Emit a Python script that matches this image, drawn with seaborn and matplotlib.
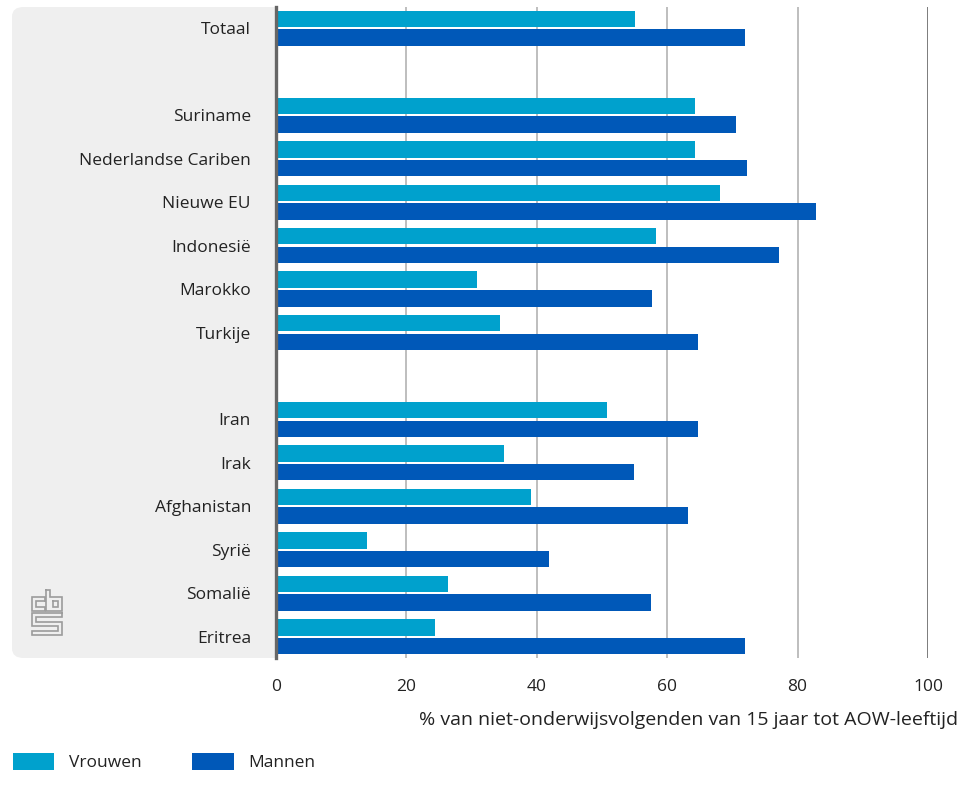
import matplotlib
matplotlib.use("Agg")
import matplotlib.pyplot as plt
from matplotlib.patches import FancyBboxPatch, Patch
import seaborn as sns
import pandas as pd

categories = ["Totaal", "", "Suriname", "Nederlandse Cariben", "Nieuwe EU", "Indonesië",
              "Marokko", "Turkije", " ", "Iran", "Irak", "Afghanistan", "Syrië", "Somalië", "Eritrea"]
vrouwen = [55, None, 64.3, 64.3, 68.1, 58.3, 30.8, 34.4, None, 50.8, 35.0, 39.1, 14.0, 26.4, 24.4]
mannen = [72, None, 70.6, 72.2, 82.8, 77.1, 57.7, 64.7, None, 64.7, 54.9, 63.2, 41.9, 57.5, 71.9]
series = ["Vrouwen", "Mannen"]
colors = ["#00A1CD", "#0058B8"]
xticks = [0, 20, 40, 60, 80, 100]
xlabel = "% van niet-onderwijsvolgenden van 15 jaar tot AOW-leeftijd"

rows = []
for c, v, m in zip(categories, vrouwen, mannen):
    if v is not None:
        rows.append({"cat": c, "val": v, "sex": "Vrouwen"})
        rows.append({"cat": c, "val": m, "sex": "Mannen"})
df = pd.DataFrame(rows)

sns.set_theme(style="white")
plt.rcParams["font.family"] = ["Open Sans", "DejaVu Sans"]
FS = 12.5
TXT = "#222222"

W, H = 966, 798
fig = plt.figure(figsize=(W / 100, H / 100), dpi=100)
ax_left, ax_right, ax_top, ax_bot = 276, 928, 7, 658
ax = fig.add_axes([ax_left / W, 1 - ax_bot / H, (ax_right - ax_left) / W, (ax_bot - ax_top) / H])
ax.set_zorder(2)

# gray panel behind labels
panel = FancyBboxPatch((12 / W, 1 - ax_bot / H), (300 - 12) / W, (ax_bot - ax_top) / H,
                       boxstyle="round,pad=0,rounding_size=0.012", transform=fig.transFigure,
                       facecolor="#efefef", edgecolor="none", zorder=-5)
fig.patches.append(panel)

sns.barplot(data=df, y="cat", x="val", hue="sex", order=categories, hue_order=series,
            palette=colors, saturation=1, orient="h", width=0.86, gap=0.12, linewidth=0, ax=ax,
            legend=False, errorbar=None)

ax.set_facecolor("white")
ax.set_xlim(0, 100)
ax.set_ylim(14.49, -0.49)
ax.set_xticks(xticks)
ax.set_xticklabels([str(t) for t in xticks])
ax.set_xlabel("")
ax.set_ylabel("")
ax.grid(axis="x", color="#b3b3b3", linewidth=1.2)
ax.set_axisbelow(True)
ax.get_xgridlines()[-1].set_color("#666666")
for s in ["top", "right", "bottom"]:
    ax.spines[s].set_visible(False)
ax.spines["left"].set_color("#666666")
ax.spines["left"].set_linewidth(2.4)
ax.spines["left"].set_zorder(5)
ax.tick_params(axis="y", length=0, pad=18, labelsize=FS, labelcolor=TXT)
ax.tick_params(axis="x", length=0, pad=15, labelsize=FS, labelcolor=TXT)

fig.text(958 / W, 1 - 720 / H, xlabel, ha="right", va="center", fontsize=14, color=TXT)

handles = [Patch(facecolor=c, edgecolor="none") for c in colors]
fig.legend(handles, series, loc="center left", bbox_to_anchor=(-3 / W, 1 - 762 / H), ncol=2,
           frameon=False, fontsize=FS, handlelength=2.4, handleheight=1.1,
           handletextpad=0.85, columnspacing=2.9, labelcolor=TXT)

# cbs logo outline
logo_color = "#9c9c9c"
def L(pts):
    xs = [p[0] / W for p in pts]
    ys = [1 - p[1] / H for p in pts]
    fig.add_artist(plt.Line2D(xs, ys, transform=fig.transFigure, color=logo_color,
                              lw=1.2, zorder=-1, solid_joinstyle="miter"))
# c
L([(45, 601), (45, 597), (32, 597), (32, 611), (45, 611), (45, 607), (36, 607), (36, 601), (45, 601)])
# b
L([(46, 590), (50, 590), (50, 597), (62, 597), (62, 611), (46, 611), (46, 590)])
L([(53, 601), (58, 601), (58, 607), (53, 607), (53, 601)])
# S
L([(62, 613), (32, 613), (32, 626), (58, 626), (58, 631), (32, 631), (32, 635), (62, 635),
   (62, 622), (36, 622), (36, 617), (62, 617), (62, 613)])

fig.savefig("out.png", dpi=100)
